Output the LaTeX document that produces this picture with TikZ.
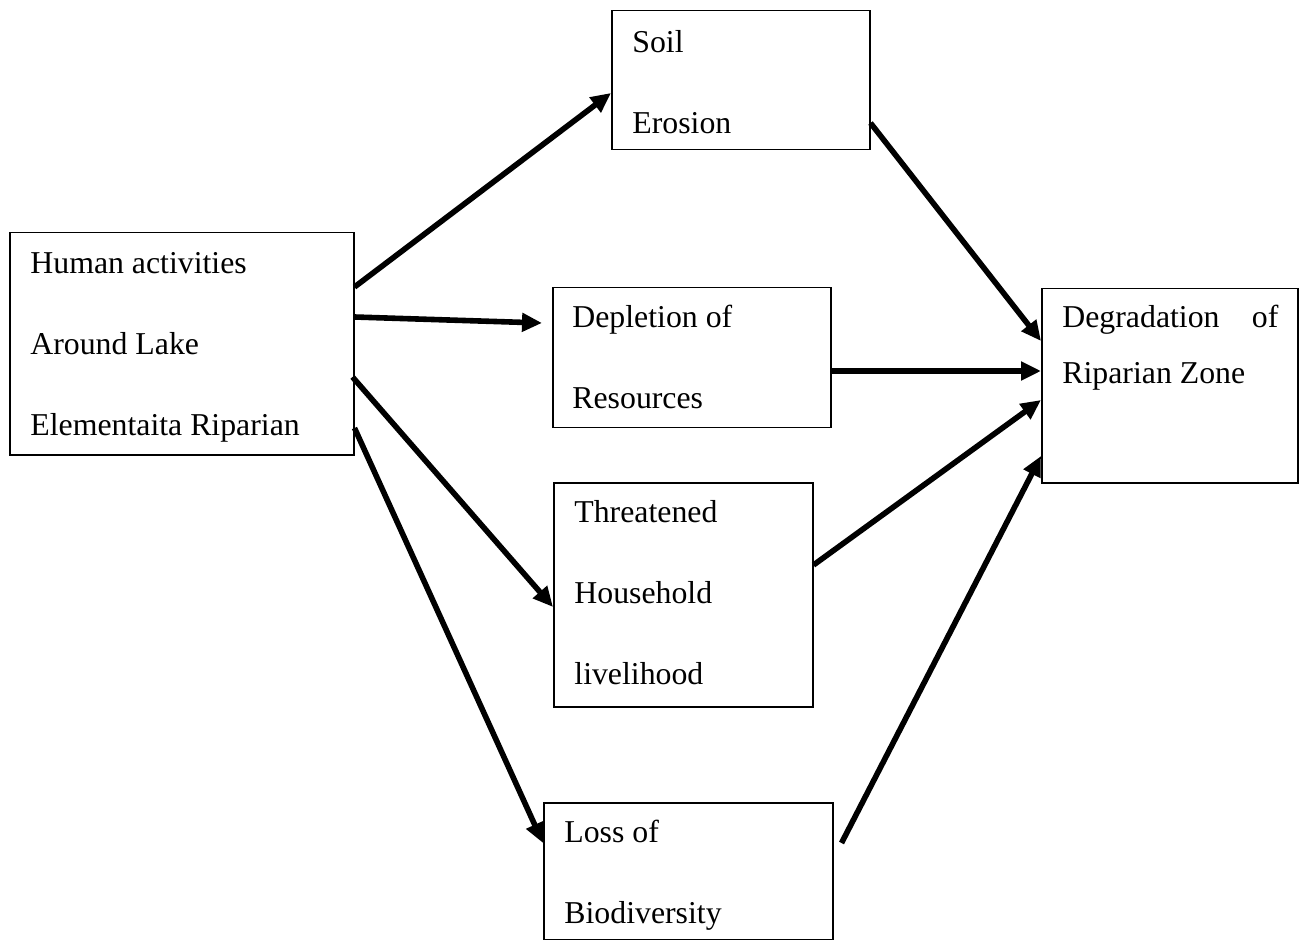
\documentclass[tikz,border=0pt]{standalone}
\usepackage{fontspec}
\setmainfont{Liberation Serif}
\usetikzlibrary{arrows.meta,calc}
\def\firststrut{\rule{0pt}{12pt}}
\begin{document}
\begin{tikzpicture}[x=0.5pt,y=-0.5pt,
  box/.style={draw, line width=0.75pt, rectangle, anchor=north west, inner sep=0pt},
  txt/.style={anchor=north west, inner sep=0pt, align=left, font=\fontsize{15.9}{40.5}\selectfont},
  arr/.style={line width=2.8pt, -{Triangle[length=10pt,width=9pt]}}]
\useasboundingbox (0,0) rectangle (1299,940);
% boxes
\node[box, minimum width=172pt, minimum height=111pt] (hum) at (9,232) {};
\node[box, minimum width=129pt, minimum height=69.5pt] (soil) at (611,10) {};
\node[box, minimum width=139pt, minimum height=70pt] (dep) at (552,287) {};
\node[box, minimum width=129.5pt, minimum height=112pt] (thr) at (553,482) {};
\node[box, minimum width=144.5pt, minimum height=68.5pt] (loss) at (543,802) {};
\node[box, minimum width=128pt, minimum height=97pt] (deg) at (1041,288) {};
% texts
\node[txt] (humt) at (30,249) {\firststrut Human activities\\Around Lake\\Elementaita Riparian};
\node[txt] (soilt) at (632,28) {\firststrut Soil\\Erosion};
\node[txt] (dept) at (572,303) {\firststrut Depletion of\\Resources};
\node[txt] (thrt) at (574,498) {\firststrut Threatened\\Household\\livelihood};
\node[txt] (losst) at (564,818) {\firststrut Loss of\\Biodiversity};
\node[txt, font=\fontsize{15.9}{28}\selectfont] (degt) at (1062,303) {\firststrut\hbox to 108pt{Degradation\hfill of}\\Riparian Zone};
% arrows
\draw[arr] ($(hum.north east)+(0,55)$) -- ($(soil.north west)+(0,83)$);
\draw[arr] ($(hum.north east)+(0,85)$) -- ($(dep.north west)+(-10,36)$);
\draw[arr] ($(hum.north east)+(-2,145)$) -- ($(thr.north west)+(0,125)$);
\draw[arr] ($(hum.north east)+(0,196)$) -- ($(loss.north west)+(0,41)$);
\draw[arr] ($(soil.north east)+(0,113)$) -- ($(deg.north west)+(0,53)$);
\draw[arr] ($(dep.north east)+(0,84)$) -- ($(deg.north west)+(0,83)$);
\draw[arr] ($(thr.north east)+(0,83)$) -- ($(deg.north west)+(0,112)$);
\draw[arr] ($(loss.north east)+(8,41)$) -- ($(deg.north west)+(0,168)$);
\end{tikzpicture}
\end{document}
